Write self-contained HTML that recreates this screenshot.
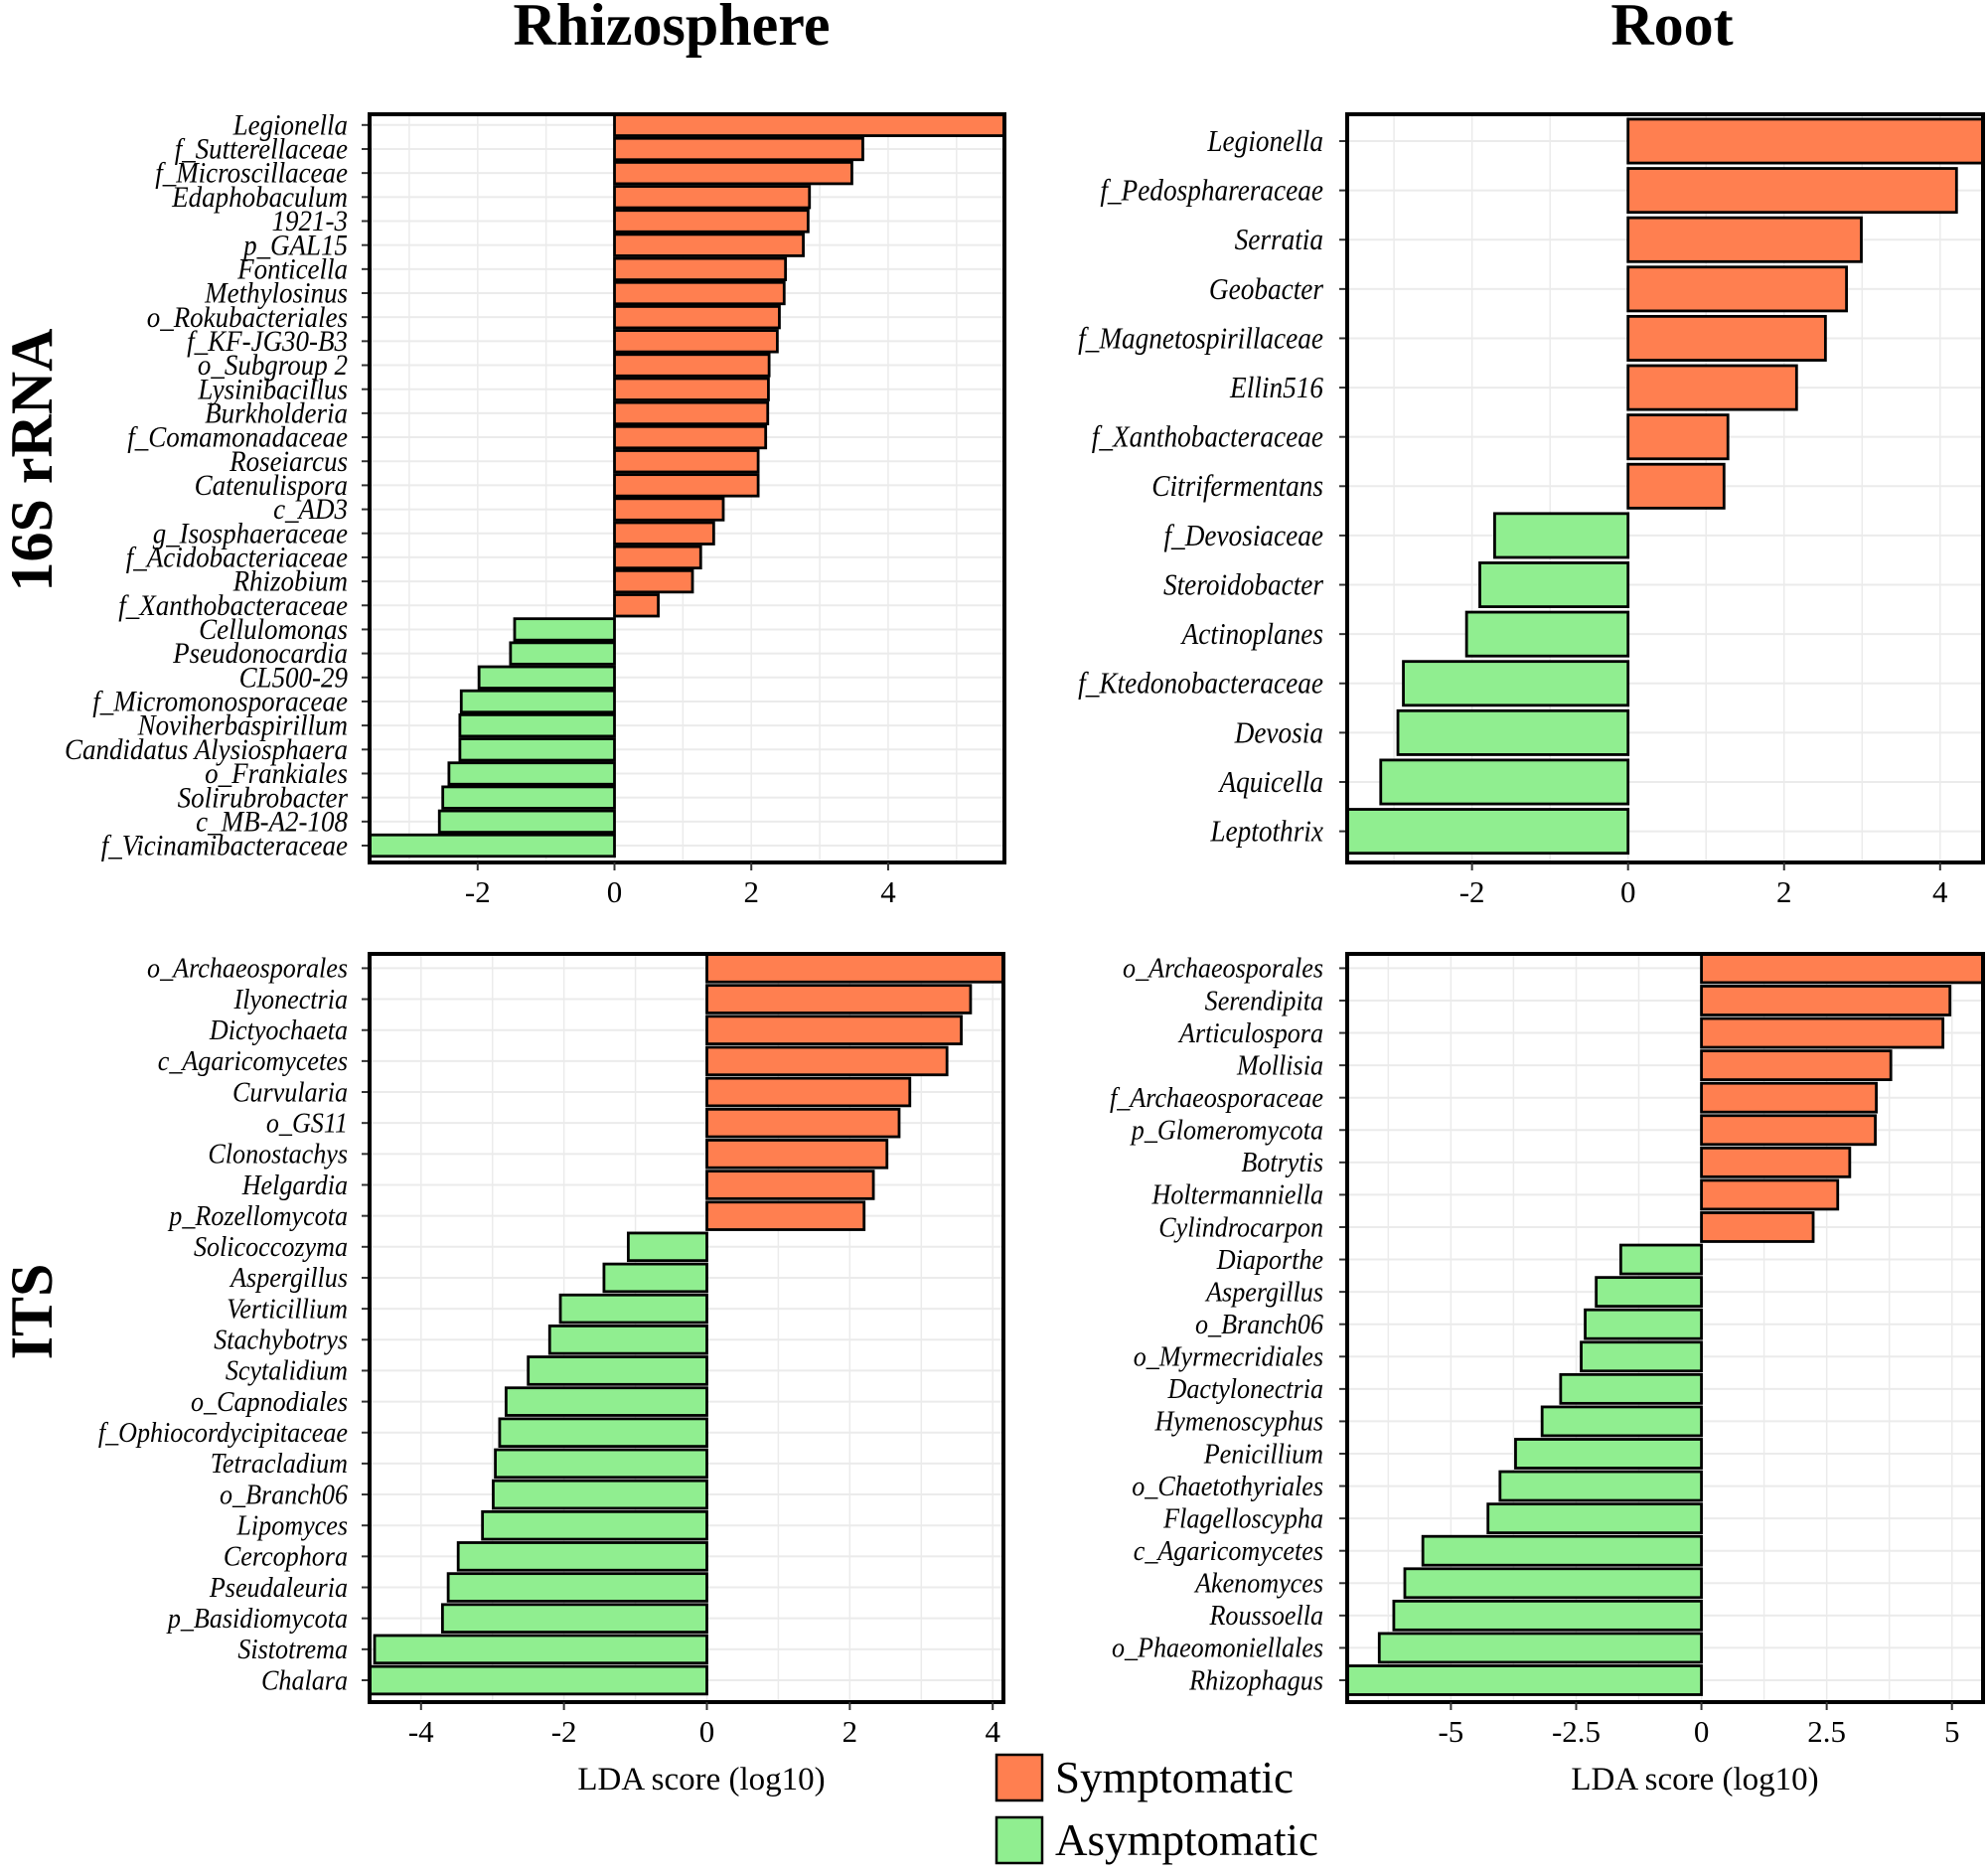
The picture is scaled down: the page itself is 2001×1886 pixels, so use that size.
<!DOCTYPE html>
<html><head><meta charset="utf-8"><style>
html,body{margin:0;padding:0;background:#fff;}
svg text{font-family:"Liberation Serif",serif;}
</style></head><body>
<svg id="fig" xmlns="http://www.w3.org/2000/svg" width="2001" height="1881" viewBox="0 0 2001 1881">
<text x="676" y="45" font-size="60" font-weight="bold" text-anchor="middle">Rhizosphere</text>
<text x="1683" y="45" font-size="60" font-weight="bold" text-anchor="middle">Root</text>
<text transform="translate(52,463) rotate(-90)" font-size="60" font-weight="bold" text-anchor="middle">16S rRNA</text>
<text transform="translate(52,1320) rotate(-90)" font-size="60" font-weight="bold" text-anchor="middle">ITS</text>
<text x="706" y="1801" font-size="33" text-anchor="middle">LDA score (log10)</text>
<text x="1706" y="1801" font-size="33" text-anchor="middle">LDA score (log10)</text>
<g>
<rect x="1003" y="1766" width="46" height="46" fill="#FF7F50" stroke="#000" stroke-width="2.5"/>
<text x="1062" y="1804" font-size="45">Symptomatic</text>
<rect x="1003" y="1829" width="46" height="46" fill="#90EE90" stroke="#000" stroke-width="2.5"/>
<text x="1062" y="1867" font-size="45">Asymptomatic</text>
</g>
</svg>
<script>
const cats16R = ["Legionella","f_Sutterellaceae","f_Microscillaceae","Edaphobaculum","1921-3","p_GAL15","Fonticella","Methylosinus","o_Rokubacteriales","f_KF-JG30-B3","o_Subgroup 2","Lysinibacillus","Burkholderia","f_Comamonadaceae","Roseiarcus","Catenulispora","c_AD3","g_Isosphaeraceae","f_Acidobacteriaceae","Rhizobium","f_Xanthobacteraceae","Cellulomonas","Pseudonocardia","CL500-29","f_Micromonosporaceae","Noviherbaspirillum","Candidatus Alysiosphaera","o_Frankiales","Solirubrobacter","c_MB-A2-108","f_Vicinamibacteraceae"];
const vals16R = [5.8,3.63,3.47,2.85,2.83,2.76,2.5,2.48,2.41,2.38,2.26,2.25,2.24,2.21,2.1,2.1,1.59,1.45,1.26,1.14,0.64,-1.46,-1.52,-1.98,-2.24,-2.26,-2.26,-2.42,-2.51,-2.56,-3.7];
const cats16Root = ["Legionella","f_Pedosphareraceae","Serratia","Geobacter","f_Magnetospirillaceae","Ellin516","f_Xanthobacteraceae","Citrifermentans","f_Devosiaceae","Steroidobacter","Actinoplanes","f_Ktedonobacteraceae","Devosia","Aquicella","Leptothrix"];
const vals16Root = [4.7,4.21,2.99,2.8,2.53,2.16,1.28,1.23,-1.71,-1.9,-2.07,-2.88,-2.95,-3.17,-3.7];
const catsITSR = ["o_Archaeosporales","Ilyonectria","Dictyochaeta","c_Agaricomycetes","Curvularia","o_GS11","Clonostachys","Helgardia","p_Rozellomycota","Solicoccozyma","Aspergillus","Verticillium","Stachybotrys","Scytalidium","o_Capnodiales","f_Ophiocordycipitaceae","Tetracladium","o_Branch06","Lipomyces","Cercophora","Pseudaleuria","p_Basidiomycota","Sistotrema","Chalara"];
const valsITSR = [4.2,3.69,3.56,3.36,2.84,2.69,2.52,2.33,2.2,-1.1,-1.44,-2.05,-2.2,-2.5,-2.81,-2.9,-2.96,-2.99,-3.14,-3.48,-3.62,-3.7,-4.65,-4.8];
const catsITSRoot = ["o_Archaeosporales","Serendipita","Articulospora","Mollisia","f_Archaeosporaceae","p_Glomeromycota","Botrytis","Holtermanniella","Cylindrocarpon","Diaporthe","Aspergillus","o_Branch06","o_Myrmecridiales","Dactylonectria","Hymenoscyphus","Penicillium","o_Chaetothyriales","Flagelloscypha","c_Agaricomycetes","Akenomyces","Roussoella","o_Phaeomoniellales","Rhizophagus"];
const valsITSRoot = [5.7,4.96,4.82,3.78,3.49,3.47,2.96,2.72,2.23,-1.61,-2.1,-2.32,-2.4,-2.81,-3.18,-3.71,-4.02,-4.26,-5.56,-5.92,-6.14,-6.43,-7.1];
const ticks16R = [-2,0,2,4];
const ticks16Root = [-2,0,2,4];
const ticksITSR = [-4,-2,0,2,4];
const ticksITSRoot = [-5,-2.5,0,2.5,5];
const tickLabelsITSRoot = ["-5","-2.5","0","2.5","5"];

const NS="http://www.w3.org/2000/svg";
const fig=document.getElementById('fig');
function mk(tag,attrs,parent){const e=document.createElementNS(NS,tag);for(const k in attrs)e.setAttribute(k,attrs[k]);(parent||fig).appendChild(e);return e;}

function panel(name,box,dom,cats,vals,ticks,tlabels,minorStep,labelSize,sx,gap,firstC,lastC){
  const g=mk('g',{});
  
  
  const x=v=>box.x0+(v-dom[0])/(dom[1]-dom[0])*(box.x1-box.x0);
  const n=cats.length;
  const step=n>1?(lastC-firstC)/(n-1):0;
  const y=i=>firstC+i*step;
  const cp='cp'+name;
  const defs=mk('defs',{},g);
  const c=mk('clipPath',{id:cp},defs);
  mk('rect',{x:box.x0,y:box.y0,width:box.x1-box.x0,height:box.y1-box.y0},c);
  const gg=mk('g',{'clip-path':'url(#'+cp+')'},g);
  for(let v=Math.ceil(dom[0]/minorStep)*minorStep;v<=dom[1];v+=minorStep){
    const ln=mk('line',{x1:x(v),x2:x(v),y1:box.y0,y2:box.y1,stroke:'#ebebeb','stroke-width':1.5},gg);
    
    
  }
  for(let i=0;i<n;i++){
    const ln=mk('line',{x1:box.x0,x2:box.x1,y1:y(i),y2:y(i),stroke:'#ebebeb','stroke-width':2},gg);
    
    
  }
  const bh=step*0.89;
  for(let i=0;i<n;i++){
    const v=vals[i];
    const xa=x(Math.min(0,v)),xb=x(Math.max(0,v));
    const r=mk('rect',{x:xa,y:y(i)-bh/2,width:xb-xa,height:bh,fill:v>=0?'#FF7F50':'#90EE90',stroke:'#000','stroke-width':2.8},gg);
    
    
    const tk=mk('line',{x1:box.x0-8,x2:box.x0,y1:y(i),y2:y(i),stroke:'#333','stroke-width':2},g);
    
    
    const t=mk('text',{transform:'translate('+(box.x0-gap)+','+(y(i)+labelSize*0.32)+') scale('+sx+',1)','font-size':labelSize,'font-style':'italic','text-anchor':'end'},g);
    t.textContent=cats[i];
    
    
  }
  mk('rect',{x:box.x0,y:box.y0,width:box.x1-box.x0,height:box.y1-box.y0,fill:'none',stroke:'#000','stroke-width':4},g);
  ticks.forEach((v,i)=>{
    const tk=mk('line',{x1:x(v),x2:x(v),y1:box.y1,y2:box.y1+8,stroke:'#333','stroke-width':2},g);
    
    
    const t=mk('text',{x:x(v),y:box.y1+40,'font-size':31,'text-anchor':'middle'},g);
    t.textContent=tlabels?tlabels[i]:String(v);
    
    
  });
}
panel('panel-16s-rhizosphere',{x0:372,x1:1011,y0:115,y1:868},[-3.58,5.7],cats16R,vals16R,ticks16R,null,1,30,0.9,22,125.8,851);
panel('panel-16s-root',{x0:1356,x1:1996,y0:115,y1:868},[-3.6,4.55],cats16Root,vals16Root,ticks16Root,null,1,31,0.88,24,142,836.6);
panel('panel-its-rhizosphere',{x0:372,x1:1010,y0:960,y1:1713},[-4.72,4.15],catsITSR,valsITSR,ticksITSR,null,1,29,0.9,22,974.4,1691);
panel('panel-its-root',{x0:1356,x1:1996,y0:960,y1:1713},[-7.07,5.62],catsITSRoot,valsITSRoot,ticksITSRoot,tickLabelsITSRoot,1.25,29,0.9,24,974.4,1691);
</script>
</body></html>
